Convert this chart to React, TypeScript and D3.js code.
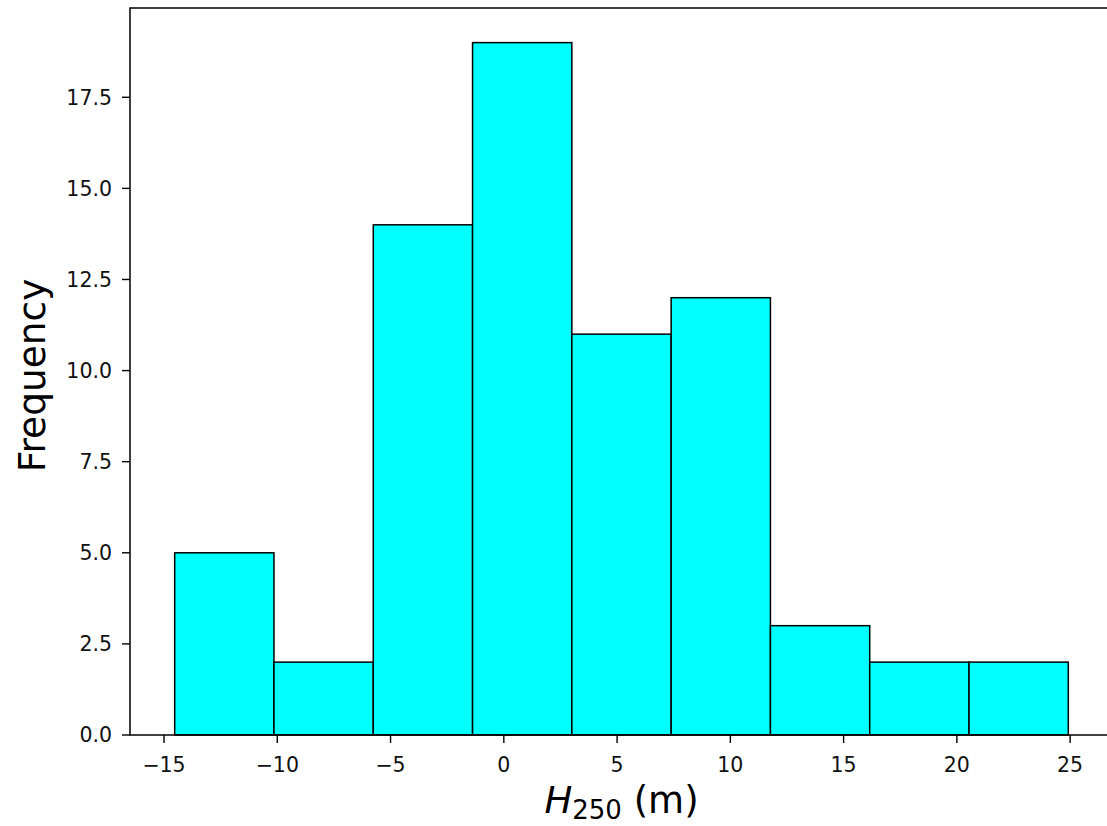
import React from "react";
import * as d3 from "d3";

const binEdges = [-14.53, -10.147, -5.763, -1.38, 3.003, 7.387, 11.77, 16.153, 20.537, 24.92];
const counts = [5, 2, 14, 19, 11, 12, 3, 2, 2];
const xTicks = [-15, -10, -5, 0, 5, 10, 15, 20, 25];
const yTicks = [0, 2.5, 5, 7.5, 10, 12.5, 15, 17.5];

const W = 1107, H = 826;
const left = 130, top = 8, right = 1113, bottom = 735;

export default function App() {
  const lo = binEdges[0], hi = binEdges[binEdges.length - 1];
  const pad = (hi - lo) * 0.05;
  const x = d3.scaleLinear().domain([lo - pad, hi + pad]).range([left, right]);
  const yMax = d3.max(counts)! * 1.05;
  const y = d3.scaleLinear().domain([0, yMax]).range([bottom, top]);
  const font = "'DejaVu Sans', sans-serif";
  const fmtX = (v: number) => (v < 0 ? "\u2212" + Math.abs(v) : String(v));
  return (
    <svg width={W} height={H} style={{ position: "absolute", left: 0, top: 0, background: "#fff" }}>
      {counts.map((c, i) => (
        <rect key={i} x={x(binEdges[i])} y={y(c)} width={x(binEdges[i + 1]) - x(binEdges[i])} height={y(0) - y(c)}
          fill="#00ffff" stroke="#000" strokeWidth={1.5} />
      ))}
      <rect x={left} y={top} width={right - left} height={bottom - top} fill="none" stroke="#000" strokeWidth={1.5} />
      {xTicks.map((t) => (
        <g key={t}>
          <line x1={x(t)} x2={x(t)} y1={bottom} y2={bottom + 8} stroke="#000" strokeWidth={1.4} />
          <text x={x(t)} y={772} textAnchor="middle" fontFamily={font} fontSize={20.5} fill="#111">{fmtX(t)}</text>
        </g>
      ))}
      {yTicks.map((t) => (
        <g key={t}>
          <line x1={left - 8} x2={left} y1={y(t)} y2={y(t)} stroke="#000" strokeWidth={1.4} />
          <text x={left - 18} y={y(t)} dy="0.36em" textAnchor="end" fontFamily={font} fontSize={20.5} fill="#111">{t.toFixed(1)}</text>
        </g>
      ))}
      <text transform={`translate(45, ${(top + bottom) / 2 + 4}) rotate(-90)`} textAnchor="middle" fontFamily={font} fontSize={37.5} fill="#000">Frequency</text>
      <text x={(left + right) / 2} y={813} textAnchor="middle" fontFamily={font} fontSize={37} fill="#000">
        <tspan fontStyle="italic">H</tspan><tspan fontSize={26} dy={6}>250</tspan><tspan dy={-6}> (m)</tspan>
      </text>
    </svg>
  );
}
